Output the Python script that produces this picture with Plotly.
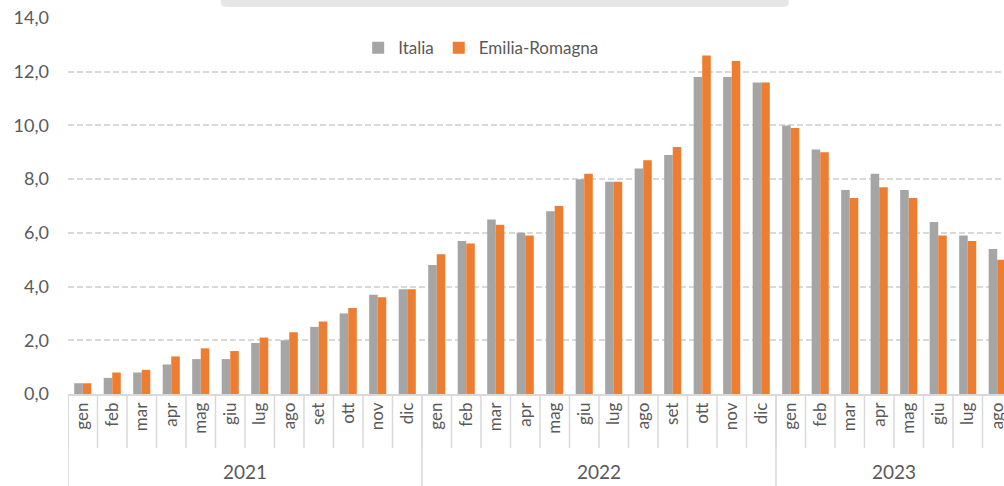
import plotly.graph_objects as go

months_2021 = ["gen", "feb", "mar", "apr", "mag", "giu", "lug", "ago", "set", "ott", "nov", "dic"]
months_2022 = ["gen", "feb", "mar", "apr", "mag", "giu", "lug", "ago", "set", "ott", "nov", "dic"]
months_2023 = ["gen", "feb", "mar", "apr", "mag", "giu", "lug", "ago"]
years = ["2021", "2022", "2023"]

italia = [0.4, 0.6, 0.8, 1.1, 1.3, 1.3, 1.9, 2.0, 2.5, 3.0, 3.7, 3.9,
          4.8, 5.7, 6.5, 6.0, 6.8, 8.0, 7.9, 8.4, 8.9, 11.8, 11.8, 11.6,
          10.0, 9.1, 7.6, 8.2, 7.6, 6.4, 5.9, 5.4]
emilia_romagna = [0.4, 0.8, 0.9, 1.4, 1.7, 1.6, 2.1, 2.3, 2.7, 3.2, 3.6, 3.9,
                  5.2, 5.6, 6.3, 5.9, 7.0, 8.2, 7.9, 8.7, 9.2, 12.6, 12.4, 11.6,
                  9.9, 9.0, 7.3, 7.7, 7.3, 5.9, 5.7, 5.0]

y_ticks = [0, 2, 4, 6, 8, 10, 12, 14]
y_ticktext = ["0,0", "2,0", "4,0", "6,0", "8,0", "10,0", "12,0", "14,0"]

month_labels = months_2021 + months_2022 + months_2023
x_idx = list(range(len(month_labels)))
group_sizes = [len(months_2021), len(months_2022), len(months_2023)]

FONT = "Lato"
TXT = "#595959"
LINE = "#d9d9d9"

fig = go.Figure()
fig.add_trace(go.Bar(x=x_idx, y=italia, name="Italia",
                     marker=dict(color="#a5a5a5", line=dict(width=0))))
fig.add_trace(go.Bar(x=x_idx, y=emilia_romagna, name="Emilia-Romagna",
                     marker=dict(color="#ed7d31", line=dict(width=0))))

shapes = []
# month dividers (short)
for i in range(len(month_labels) + 1):
    shapes.append(dict(type="line", xref="x", yref="paper",
                       x0=i - 0.5, x1=i - 0.5, y0=0, y1=-0.1436,
                       line=dict(color=LINE, width=1.5)))
# year dividers (long)
start = 0
annotations = []
for yr, n in zip(years, group_sizes):
    shapes.append(dict(type="line", xref="x", yref="paper",
                       x0=start - 0.5, x1=start - 0.5, y0=0, y1=-0.26,
                       line=dict(color=LINE, width=1.5)))
    annotations.append(dict(x=start + (n - 1) / 2, y=-0.207, xref="x", yref="paper",
                            text=yr, showarrow=False,
                            font=dict(family=FONT, size=19, color=TXT),
                            xanchor="center", yanchor="middle"))
    start += n
shapes.append(dict(type="line", xref="x", yref="paper",
                   x0=start - 0.5, x1=start - 0.5, y0=0, y1=-0.26,
                   line=dict(color=LINE, width=1.5)))

# cropped title box at top
shapes.append(dict(type="path", xref="paper", yref="paper",
                   path="M 0.1635 1.06 L 0.1635 1.038 Q 0.1635 1.0295 0.1725 1.0295 "
                        "L 0.761 1.0295 Q 0.770 1.0295 0.770 1.038 L 0.770 1.06 Z",
                   fillcolor="#e7e6e6", line=dict(width=0), layer="above"))

fig.update_layout(
    width=1004, height=486,
    margin=dict(l=68, r=0, t=18, b=92, autoexpand=False),
    paper_bgcolor="white", plot_bgcolor="white",
    barmode="group", bargap=0.42, bargroupgap=0,
    font=dict(family=FONT, color=TXT),
    showlegend=True,
    legend=dict(orientation="h", x=0.31, y=0.92, xanchor="left", yanchor="middle",
                font=dict(family=FONT, size=17, color=TXT),
                itemwidth=30, bgcolor="rgba(0,0,0,0)"),
    shapes=shapes, annotations=annotations,
    xaxis=dict(range=[-0.5, 31.23], tickmode="array", tickvals=x_idx, ticktext=month_labels,
               tickangle=-90, tickfont=dict(family=FONT, size=17, color=TXT),
               ticklabeloverflow="allow",
               showline=True, linecolor=LINE, linewidth=1.5, showgrid=False,
               ticks="", zeroline=False, fixedrange=True, automargin=False),
    yaxis=dict(range=[0, 14], tickmode="array", tickvals=y_ticks, ticktext=y_ticktext,
               tickfont=dict(family=FONT, size=18, color=TXT),
               showgrid=True, gridcolor=LINE, gridwidth=1.5, griddash="6px,3px",
               zeroline=False, showline=False, ticks="", ticklabelstandoff=18,
               automargin=False),
)

fig.write_html("out.html", config={"displayModeBar": False},
               post_script="document.body.style.margin='0';document.body.style.overflow='hidden';")
